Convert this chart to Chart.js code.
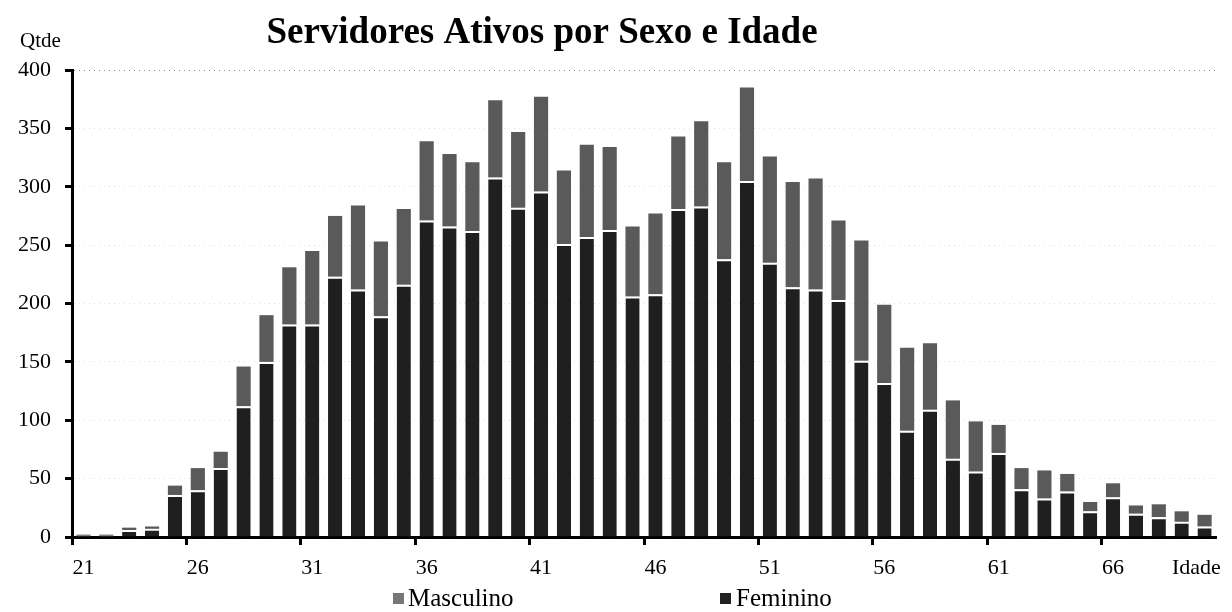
<!DOCTYPE html>
<html>
<head>
<meta charset="utf-8">
<script src="https://cdn.jsdelivr.net/npm/chart.js@4.4.1/dist/chart.umd.min.js"></script>
<style>
  html, body { margin: 0; padding: 0; background: #fff; }
  #wrap { width: 1232px; height: 612px; position: relative; }
</style>
</head>
<body>
<div id="wrap"><canvas id="chart" width="1232" height="612"></canvas></div>
<script>
// idades 21..70
const idades = [];
for (let a = 21; a <= 70; a++) idades.push(String(a));

const feminino = [1, 1, 6, 7, 36, 40, 59, 112, 150, 182,
    182, 223, 212, 189, 216, 271, 266, 262, 308, 282,
    296, 251, 257, 263, 206, 208, 281, 283, 238, 305,
    235, 214, 212, 203, 151, 132, 91, 109, 67, 56,
    72, 41, 33, 39, 22, 34, 20, 17, 13, 9];

const masculino = [1, 1, 2, 2, 8, 19, 14, 34, 40, 49,
    63, 52, 72, 64, 65, 68, 62, 59, 66, 65,
    81, 63, 79, 71, 60, 69, 62, 73, 83, 80,
    91, 90, 95, 68, 103, 67, 71, 57, 50, 43,
    24, 18, 24, 15, 8, 12, 7, 11, 9, 10];

const yTicks = [0, 50, 100, 150, 200, 250, 300, 350, 400];

const serif = "'Liberation Serif', 'Times New Roman', serif";

const textPlugin = {
    id: 'textos',
    afterDraw(chart) {
        const ctx = chart.ctx;
        ctx.save();
        ctx.fillStyle = '#000';
        ctx.textBaseline = 'middle';

        ctx.font = 'bold 37px ' + serif;
        ctx.textAlign = 'center';
        ctx.fillText('Servidores Ativos por Sexo e Idade', 542, 33);

        ctx.font = '21px ' + serif;
        ctx.textAlign = 'left';
        ctx.fillText('Qtde', 20, 41);

        ctx.font = '22px ' + serif;
        ctx.fillText('Idade', 1172, 568);

        // legenda
        ctx.font = '25px ' + serif;
        ctx.fillStyle = '#777';
        ctx.fillRect(393, 593, 11, 11);
        ctx.fillStyle = '#000';
        ctx.fillText('Masculino', 408, 599);
        ctx.fillStyle = '#222';
        ctx.fillRect(720, 593, 11, 11);
        ctx.fillStyle = '#000';
        ctx.fillText('Feminino', 736, 599);
        ctx.restore();
    }
};

const ctx = document.getElementById('chart').getContext('2d');
const myChart = new Chart(ctx, {
    type: 'bar',
    data: {
        labels: idades,
        datasets: [{
            label: 'Feminino',
            data: feminino,
            backgroundColor: '#1f1f1f',
            borderColor: '#ffffff',
            borderWidth: {top: 2, left: 0, right: 0, bottom: 0},
            borderSkipped: false,
            barPercentage: 0.62,
            categoryPercentage: 1
        }, {
            label: 'Masculino',
            data: masculino,
            backgroundColor: '#5a5a5a',
            borderWidth: 0,
            barPercentage: 0.62,
            categoryPercentage: 1
        }]
    },
    options: {
        responsive: false,
        animation: false,
        layout: {padding: {left: 0, top: 70, right: 16, bottom: 0}},
        plugins: {
            legend: {display: false},
            tooltip: {enabled: false}
        },
        scales: {
            x: {
                stacked: true,
                afterFit(scale) { scale.height = 75; },
                border: {color: '#000', width: 3},
                grid: {
                    drawOnChartArea: false,
                    drawTicks: true,
                    tickLength: 8,
                    tickWidth: 3,
                    tickColor: (c) => c.index % 5 === 0 ? '#000' : 'rgba(0,0,0,0)'
                },
                ticks: {
                    autoSkip: false,
                    maxRotation: 0,
                    padding: 10,
                    color: '#000',
                    font: {family: serif, size: 22},
                    callback: function (v, i) {
                        return i % 5 === 0 ? idades[i] : '';
                    }
                }
            },
            y: {
                stacked: true,
                min: 0,
                max: 400,
                afterFit(scale) { scale.width = 72; },
                afterBuildTicks(scale) {
                    scale.ticks = yTicks.map(v => ({value: v}));
                },
                border: {color: '#000', width: 3, dash: [1, 4]},
                grid: {
                    drawOnChartArea: true,
                    color: (c) => c.tick && c.tick.value === 400 ? '#8a8a8a' : '#e2e2e2',
                    lineWidth: 1,
                    tickLength: 7,
                    tickWidth: 3,
                    tickColor: '#000'
                },
                ticks: {
                    padding: 14,
                    color: '#000',
                    font: {family: serif, size: 22}
                }
            }
        }
    },
    plugins: [textPlugin]
});
</script>
</body>
</html>
